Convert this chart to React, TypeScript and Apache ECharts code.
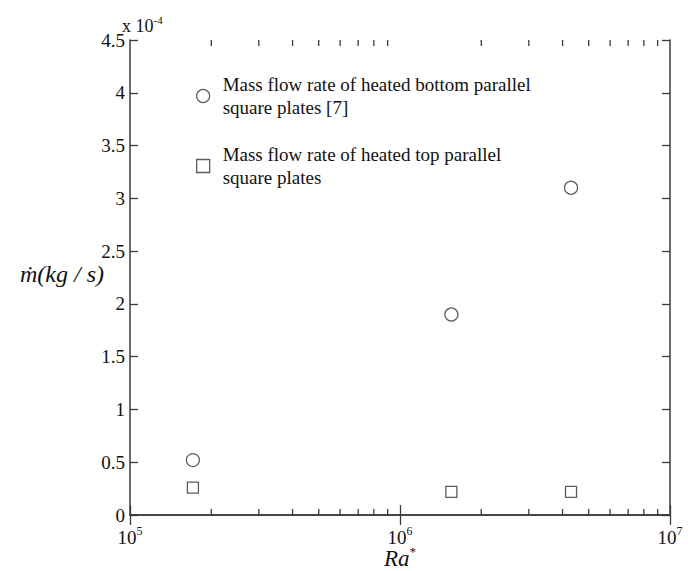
import React, { useEffect, useRef } from "react";
import * as echarts from "echarts";

const bottomPlatesX = [1.71e5, 1.55e6, 4.3e6];
const bottomPlatesY = [0.52, 1.9, 3.1];
const topPlatesX = [1.71e5, 1.55e6, 4.3e6];
const topPlatesY = [0.26, 0.22, 0.22];
const minorTickValues = [2e5, 3e5, 4e5, 5e5, 6e5, 7e5, 8e5, 9e5, 2e6, 3e6, 4e6, 5e6, 6e6, 7e6, 8e6, 9e6];
const seriesNames = [
  "Mass flow rate of heated bottom parallel\nsquare plates [7]",
  "Mass flow rate of heated top parallel\nsquare plates",
];

const FONT = "'Liberation Serif', 'DejaVu Serif', serif";
const AXIS_COLOR = "#3a3a3a";

export default function App() {
  const ref = useRef<HTMLDivElement>(null);
  useEffect(() => {
    if (!ref.current) return;
    const chart = echarts.init(ref.current, null, { renderer: "svg" });
    const markerStyle = { color: "#fff", borderColor: "#333", borderWidth: 1.3 };
    const xBase = {
      type: "log",
      logBase: 10,
      min: 1e5,
      max: 1e7,
      axisLine: { show: true, lineStyle: { color: AXIS_COLOR, width: 1.5 } },
      axisTick: { show: true, inside: true, length: 10, lineStyle: { color: AXIS_COLOR, width: 1.3 } },
      splitLine: { show: false },
      minorTick: { show: false },
    };
    const yBase = {
      type: "value",
      min: 0,
      max: 4.5,
      interval: 0.5,
      axisLine: { show: true, lineStyle: { color: AXIS_COLOR, width: 1.5 } },
      axisTick: { show: true, inside: true, length: 8, lineStyle: { color: AXIS_COLOR, width: 1.3 } },
      splitLine: { show: false },
    };
    chart.setOption({
      animation: false,
      backgroundColor: "#fff",
      grid: { left: 130, right: 25, top: 40, bottom: 56 },
      legend: {
        orient: "vertical",
        left: 196,
        top: 73,
        padding: 0,
        itemGap: 24,
        itemWidth: 13,
        itemHeight: 13,
        textStyle: { fontFamily: FONT, fontSize: 19, color: "#111", lineHeight: 23, padding: [0, 0, 0, 8] },
        data: [
          { name: seriesNames[0], icon: "circle", itemStyle: markerStyle },
          { name: seriesNames[1], icon: "rect", itemStyle: markerStyle },
        ],
      },
      xAxis: [
        {
          ...xBase,
          position: "bottom",
          axisLabel: {
            show: true,
            margin: 10,
            fontFamily: FONT,
            color: "#111",
            formatter: (v: number) => `{b|10}{s|${Math.round(Math.log10(v))}}`,
            rich: {
              b: { fontFamily: FONT, fontSize: 19, color: "#111" },
              s: { fontFamily: FONT, fontSize: 12, color: "#111", padding: [0, 0, 12, 0] },
            },
          },
        },
        {
          ...xBase,
          position: "top",
          axisLabel: { show: false },
        },
      ],
      yAxis: [
        {
          ...yBase,
          position: "left",
          axisLabel: { show: true, margin: 5, fontFamily: FONT, fontSize: 19, color: "#111" },
        },
        {
          ...yBase,
          position: "right",
          axisLabel: { show: false },
        },
      ],
      graphic: [
        {
          type: "text",
          left: 122,
          top: 14,
          style: {
            text: "{a|x 10}{b|-4}",
            rich: {
              a: { fontFamily: FONT, fontSize: 18, fill: "#111" },
              b: { fontFamily: FONT, fontSize: 11, fill: "#111", padding: [0, 0, 12, 0] },
            },
          },
        },
        {
          type: "text",
          x: 62,
          y: 274,
          style: {
            text: "ṁ(kg / s)",
            font: `italic 24px ${FONT}`,
            fill: "#111",
            align: "center",
            verticalAlign: "middle",
          },
        },
        {
          type: "text",
          x: 400,
          y: 558,
          style: {
            text: "{a|Ra}{b|*}",
            align: "center",
            verticalAlign: "middle",
            rich: {
              a: { fontFamily: FONT, fontStyle: "italic", fontSize: 23, fill: "#111" },
              b: { fontFamily: FONT, fontSize: 13, fill: "#111", padding: [0, 0, 14, 0] },
            },
          },
        },
      ],
      series: [
        {
          name: seriesNames[0],
          type: "scatter",
          symbol: "circle",
          symbolSize: 13,
          itemStyle: markerStyle,
          data: bottomPlatesX.map((x, i) => [x, bottomPlatesY[i]]),
        },
        {
          name: seriesNames[1],
          type: "scatter",
          symbol: "rect",
          symbolSize: 11,
          itemStyle: markerStyle,
          data: topPlatesX.map((x, i) => [x, topPlatesY[i]]),
        },
        {
          type: "custom",
          silent: true,
          data: minorTickValues.map((v) => [v]),
          renderItem: (params: any, api: any) => {
            const v = api.value(0);
            const b = api.coord([v, 0]);
            const t = api.coord([v, 4.5]);
            const style = { stroke: AXIS_COLOR, lineWidth: 1.3 };
            return {
              type: "group",
              children: [
                { type: "line", shape: { x1: b[0], y1: b[1], x2: b[0], y2: b[1] - 6 }, style },
                { type: "line", shape: { x1: t[0], y1: t[1], x2: t[0], y2: t[1] + 6 }, style },
              ],
            };
          },
        },
      ],
    });
    return () => chart.dispose();
  }, []);
  return (
    <div
      ref={ref}
      style={{ position: "fixed", left: 0, top: 0, width: 695, height: 571 }}
    />
  );
}
